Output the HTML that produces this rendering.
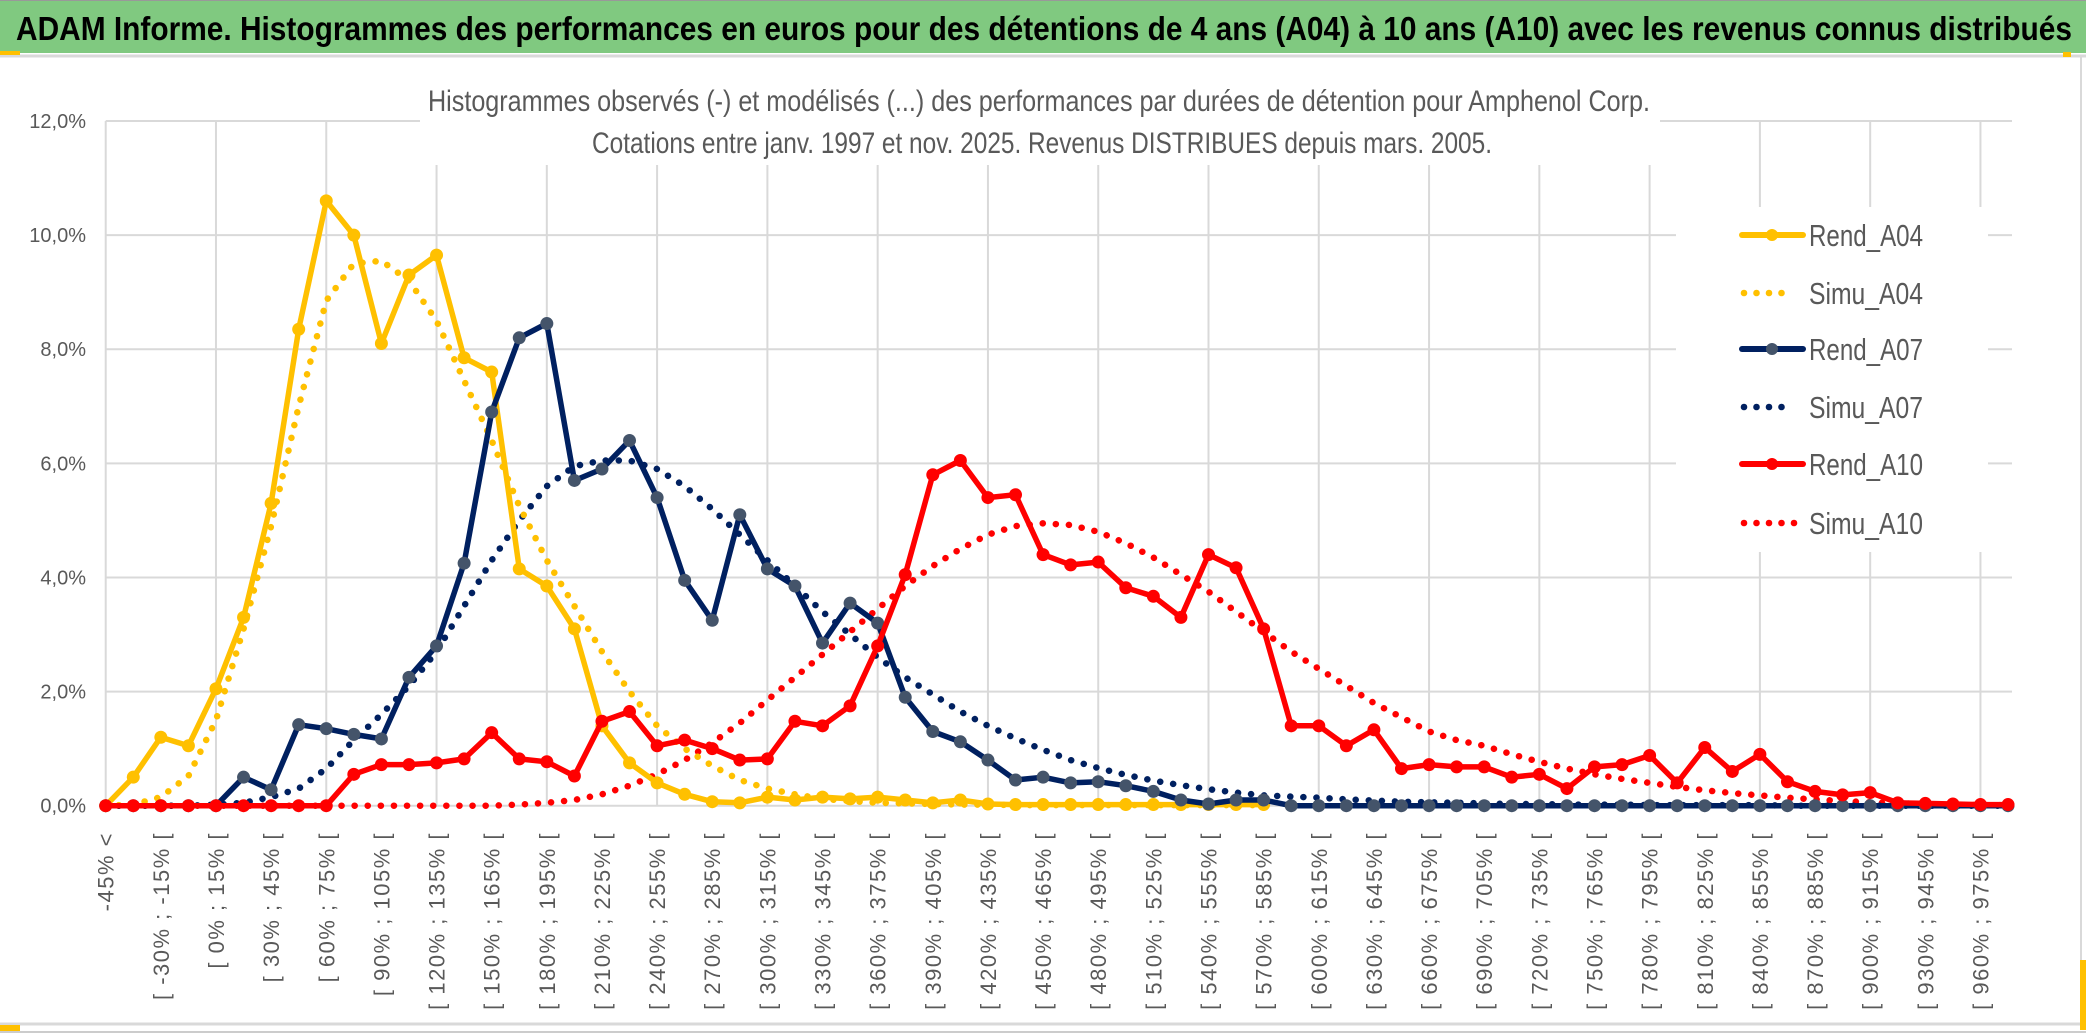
<!DOCTYPE html>
<html><head><meta charset="utf-8"><title>ADAM Informe</title>
<style>
html,body{margin:0;padding:0;background:#fff;}
svg{display:block;}
text{font-family:"Liberation Sans Narrow","Liberation Sans",sans-serif;}
</style></head>
<body>
<svg id="chart" width="2086" height="1033" viewBox="0 0 2086 1033" xmlns="http://www.w3.org/2000/svg">
  <rect x="0" y="0" width="2086" height="1033" fill="#fff"/>
  <rect x="0" y="1" width="2086" height="52" fill="#80C980"/>
  <line x1="0" y1="0.5" x2="2086" y2="0.5" stroke="#999" stroke-width="1"/>
  <line x1="0" y1="56" x2="2086" y2="56" stroke="#D9D9D9" stroke-width="3"/>
  <rect x="0" y="51" width="20" height="4" fill="#FFC000"/>
  <text x="16" y="40" font-size="33" font-weight="bold" fill="#000" textLength="2056" lengthAdjust="spacingAndGlyphs">ADAM Informe. Histogrammes des performances en euros pour des détentions de 4 ans (A04) à 10 ans (A10) avec les revenus connus distribués</text>
  <line x1="2081" y1="57" x2="2081" y2="1025" stroke="#D9D9D9" stroke-width="2"/>
  <line x1="0" y1="1024" x2="2082" y2="1024" stroke="#D9D9D9" stroke-width="3"/>
  <line x1="0" y1="1032" x2="2086" y2="1032" stroke="#999" stroke-width="1"/>
  <rect x="2080" y="960" width="6" height="70" fill="#FFC000"/>
  <rect x="0" y="1025" width="20" height="6" fill="#FFC000"/>
  <rect x="2063" y="52" width="8" height="5" fill="#FFC000"/>
  <g id="grid"></g>
  <rect x="420" y="75" width="1240" height="90" fill="#fff"/>
  <rect x="1676" y="207" width="312" height="345" fill="#fff"/>
  <text x="428" y="111" font-size="30" fill="#595959" textLength="1222" lengthAdjust="spacingAndGlyphs">Histogrammes observés (-) et modélisés (...) des performances par durées de détention pour Amphenol Corp.</text>
  <text x="592" y="153" font-size="30" fill="#595959" textLength="900" lengthAdjust="spacingAndGlyphs">Cotations entre janv. 1997 et nov. 2025. Revenus DISTRIBUES depuis mars. 2005.</text>
  <g id="yaxis"></g>
  <g id="xaxis"></g>
  <g id="series"></g>
  <g id="legend"></g>
</svg>
<script>
var yTicks = [0, 2, 4, 6, 8, 10, 12];
var yTickLabels = ["0,0%", "2,0%", "4,0%", "6,0%", "8,0%", "10,0%", "12,0%"];
var nCategories = 70;
var rendA04 = [0,0.5,1.2,1.05,2.05,3.3,5.3,8.35,10.6,10.0,8.1,9.3,9.65,7.85,7.6,4.15,3.85,3.1,1.4,0.75,0.4,0.2,0.07,0.05,0.15,0.1,0.15,0.12,0.15,0.1,0.05,0.1,0.03,0.02,0.02,0.02,0.02,0.02,0.02,0.02,0.02,0.02,0.02];
var simuA04 = [0,0.02,0.15,0.52,1.5,3.1,4.9,7.0,8.85,9.5,9.55,9.2,8.5,7.45,6.4,5.25,4.3,3.5,2.7,2.0,1.4,1.0,0.7,0.45,0.3,0.2,0.12,0.08,0.05,0.04,0.03,0.02,0.02,0.01,0.01,0.01,0.01,0.01,0.01,0.01,0.01,0.01,0.01];
var rendA07 = [0,0,0,0,0,0.5,0.28,1.42,1.35,1.25,1.17,2.25,2.8,4.25,6.9,8.2,8.45,5.7,5.9,6.4,5.4,3.95,3.25,5.1,4.15,3.85,2.85,3.55,3.2,1.9,1.3,1.12,0.8,0.45,0.5,0.4,0.42,0.35,0.25,0.1,0.03,0.1,0.1,0,0,0,0,0,0,0,0,0,0,0,0,0,0,0,0,0,0,0,0,0,0,0,0,0,0,0];
var simuA07 = [0,0,0,0,0.02,0.05,0.15,0.3,0.65,1.15,1.6,2.1,2.7,3.5,4.3,5.0,5.6,5.95,6.05,6.05,5.9,5.6,5.2,4.75,4.3,3.85,3.4,3.0,2.6,2.25,1.95,1.65,1.4,1.18,0.98,0.8,0.66,0.54,0.44,0.36,0.29,0.23,0.18,0.16,0.14,0.11,0.09,0.07,0.06,0.05,0.04,0.03,0.03,0.02,0.02,0.02,0.01,0.01,0.01,0.01,0.01,0,0,0,0,0,0,0,0,0];
var rendA10 = [0,0,0,0,0,0,0,0,0,0.55,0.72,0.72,0.75,0.82,1.28,0.82,0.77,0.52,1.48,1.65,1.05,1.15,1.0,0.8,0.82,1.48,1.4,1.75,2.8,4.05,5.8,6.05,5.4,5.45,4.4,4.22,4.27,3.82,3.67,3.3,4.4,4.17,3.1,1.4,1.4,1.05,1.33,0.65,0.72,0.68,0.68,0.5,0.55,0.3,0.68,0.72,0.88,0.4,1.02,0.6,0.9,0.42,0.25,0.19,0.23,0.05,0.04,0.03,0.02,0.02];
var simuA10 = [0,0,0,0,0,0,0,0,0,0,0,0,0,0,0,0.02,0.05,0.1,0.2,0.35,0.55,0.8,1.1,1.45,1.85,2.25,2.65,3.05,3.45,3.85,4.2,4.5,4.75,4.9,4.95,4.92,4.8,4.6,4.35,4.05,3.75,3.4,3.05,2.7,2.4,2.1,1.8,1.55,1.3,1.15,1.05,0.9,0.77,0.65,0.55,0.47,0.4,0.33,0.27,0.22,0.18,0.14,0.11,0.08,0.06,0.04,0.03,0.02,0.01,0.01];
var seriesNames = ["Rend_A04", "Simu_A04", "Rend_A07", "Simu_A07", "Rend_A10", "Simu_A10"];

var NS = "http://www.w3.org/2000/svg";
var X0 = 105.7, DX = 27.57, Y0 = 805.7, DY = 57.06, XR = 2012;
function xPos(i){ return X0 + DX * i; }
function yPos(v){ return Y0 - DY * v; }
function mk(tag, attrs, parent){ var e = document.createElementNS(NS, tag); for (var k in attrs) e.setAttribute(k, attrs[k]); parent.appendChild(e); return e; }
function catLabel(i){ if (i === 0) return "-45% <"; var a = -45 + 15 * (i - 1); return "[ " + a + "% ; " + (a + 15) + "% ["; }

var grid = document.getElementById("grid");
yTicks.forEach(function(t){
  var l = mk("line", {x1: X0, x2: XR, y1: yPos(t), y2: yPos(t), stroke: "#D9D9D9", "stroke-width": 2}, grid);
  
  
});
for (var i = 0; i < nCategories; i += 4) {
  var l = mk("line", {x1: xPos(i), x2: xPos(i), y1: yPos(12), y2: Y0, stroke: "#D9D9D9", "stroke-width": 2}, grid);
  
  
}

var yaxis = document.getElementById("yaxis");
yTicks.forEach(function(t, k){
  var tx = mk("text", {x: 86, y: yPos(t) + 7, "text-anchor": "end", "font-size": 20, fill: "#595959"}, yaxis);
  tx.textContent = yTickLabels[k];
  
  
});

var xaxis = document.getElementById("xaxis");
for (var i = 0; i < nCategories; i += 2) {
  var tx = mk("text", {transform: "translate(" + (xPos(i) + 8) + ",832) rotate(-90)", "text-anchor": "end", "font-size": 22, "letter-spacing": 1.5, fill: "#595959", style: "font-family:'Liberation Sans',sans-serif"}, xaxis);
  tx.textContent = catLabel(i);
  
  
}

var series = document.getElementById("series");
function drawSolid(vals, color, mcolor, name){
  var g = mk("g", {}, series);
  
  
  var d = vals.map(function(v, i){ return (i ? "L" : "M") + xPos(i).toFixed(1) + "," + yPos(v).toFixed(1); }).join("");
  mk("path", {d: d, fill: "none", stroke: color, "stroke-width": 5.5, "stroke-linejoin": "round"}, g);
  vals.forEach(function(v, i){
    var c = mk("circle", {cx: xPos(i), cy: yPos(v), r: 6.5, fill: mcolor}, g);
    
    
  });
}
function drawDotted(vals, color, name){
  var d = vals.map(function(v, i){ return (i ? "L" : "M") + xPos(i).toFixed(1) + "," + yPos(v).toFixed(1); }).join("");
  var p = mk("path", {d: d, fill: "none", stroke: color, "stroke-width": 6.5, "stroke-linecap": "round", "stroke-dasharray": "0.1 13"}, series);
  
  
}
drawDotted(simuA10, "#FF0000", "simu-a10-line");
drawDotted(simuA07, "#002060", "simu-a07-line");
drawDotted(simuA04, "#FFC000", "simu-a04-line");
drawSolid(rendA04, "#FFC000", "#FFC000", "rend-a04-line");
drawSolid(rendA07, "#002060", "#44546A", "rend-a07-line");
drawSolid(rendA10, "#FF0000", "#FF0000", "rend-a10-line");

var legend = document.getElementById("legend");
var legY = [235, 293, 349, 407, 464, 523];
var legColors = ["#FFC000", "#FFC000", "#002060", "#002060", "#FF0000", "#FF0000"];
var legMarker = ["#FFC000", null, "#44546A", null, "#FF0000", null];
seriesNames.forEach(function(n, k){
  var g = mk("g", {}, legend);
  
  
  var y = legY[k];
  if (legMarker[k]) {
    mk("line", {x1: 1742, x2: 1803, y1: y, y2: y, stroke: legColors[k], "stroke-width": 6, "stroke-linecap": "round"}, g);
    mk("circle", {cx: 1772, cy: y, r: 6, fill: legMarker[k]}, g);
  } else {
    var nd = (k === 5) ? 5 : 4;
    for (var j = 0; j < nd; j++) mk("circle", {cx: 1744 + j * 12.5, cy: y, r: 3.3, fill: legColors[k]}, g);
  }
  var t = mk("text", {x: 1809, y: y + 11, "font-size": 31, fill: "#595959", textLength: 114, lengthAdjust: "spacingAndGlyphs"}, g);
  t.textContent = n;
});
</script>
</body></html>
